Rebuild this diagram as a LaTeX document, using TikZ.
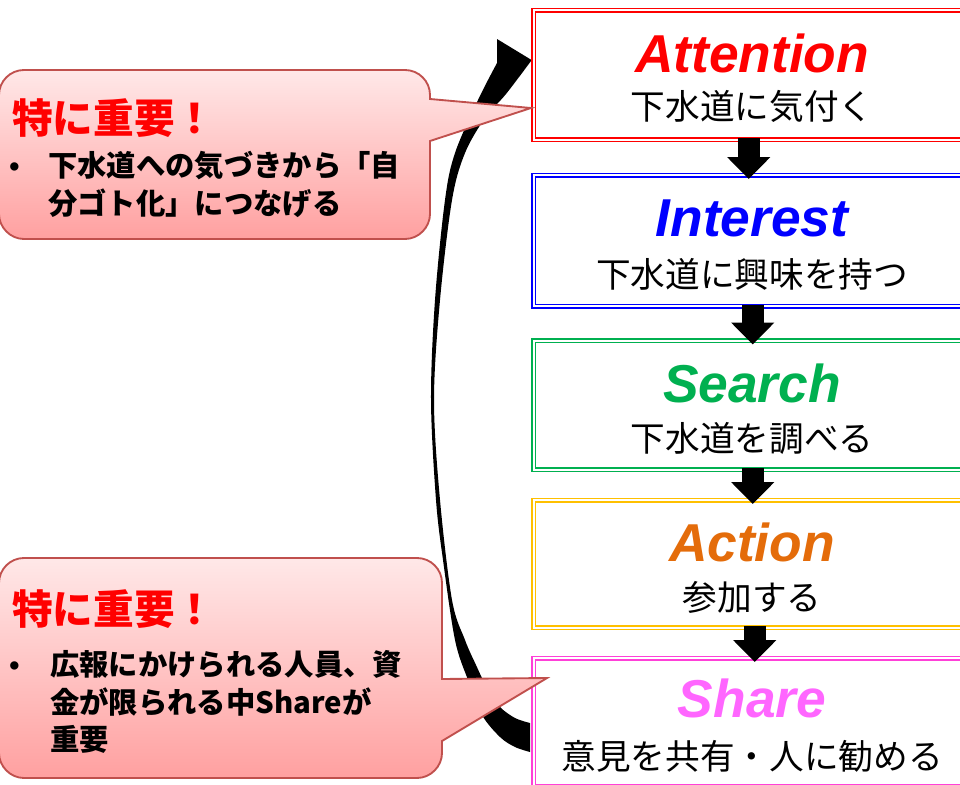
\documentclass[tikz,border=0pt]{standalone}
\usepackage{fontspec}
\setmainfont{Liberation Sans}
\newfontfamily\jp{Noto Sans CJK JP}
\usetikzlibrary{arrows.meta}
\definecolor{cAtt}{HTML}{FF0000}
\definecolor{cInt}{HTML}{0000FF}
\definecolor{cSea}{HTML}{00B050}
\definecolor{cAct}{HTML}{E46C0A}
\definecolor{cSha}{HTML}{FF66FF}
\definecolor{bAct}{HTML}{FFC000}
\definecolor{bSha}{HTML}{FF40D8}
\definecolor{cBorder}{HTML}{C0504D}
\definecolor{cTop}{HTML}{FFE8E8}
\definecolor{cBot}{HTML}{FFA0A0}
\begin{document}
\begin{tikzpicture}[x=0.75pt,y=-0.75pt,
  stagebox/.style={draw=#1, double=white, double distance=1.4pt, line width=1.1pt,
    fill=white, rectangle, inner sep=0pt, anchor=north west, minimum width=328.5pt},
  stagetitle/.style={text=#1, font=\fontsize{40pt}{44pt}\selectfont\bfseries\itshape,
    anchor=base, inner sep=0pt},
  stagetext/.style={font=\jp\fontsize{26pt}{30pt}\selectfont, anchor=base, inner sep=0pt},
  downarrow/.style={line width=16.5pt, -{Triangle[width=31.5pt,length=16.5pt]},
    shorten <=-1.5pt, shorten >=-3.4pt},
  callout/.style={top color=cTop, bottom color=cBot, draw=cBorder, line width=1.4pt},
  ctitle/.style={text=red, font=\jp\bfseries\fontsize{30.5pt}{34pt}\selectfont,
    anchor=base west, inner sep=0pt},
  cline/.style={font=\jp\bfseries\fontsize{22pt}{26pt}\selectfont,
    anchor=base west, inner sep=0pt},
  cbullet/.style={font=\bfseries\fontsize{21.75pt}{26pt}\selectfont,
    anchor=base west, inner sep=0pt}
]
\useasboundingbox (0,0) rectangle (960,785);
\clip (0,0) rectangle (960,785);

% curved return arrow
\fill[black] (497,39) -- (548,70) -- (531,61)
  -- plot[smooth, tension=0.55] coordinates {(531,61) (506,94) (485,118) (465,153)
     (452,200) (440,300) (434,400) (440,500) (452,600) (465,640) (476,665)
     (488,690) (500,707) (515,718) (530,723)}
  -- (530,752)
  -- plot[smooth, tension=0.55] coordinates {(530,752) (515,747) (500,737) (482,715)
     (468,680) (455,640) (443,560) (436,500) (431,400) (435,300) (445,200)
     (455,153) (478,100) (497,63)}
  -- cycle;

% stage boxes
\node[stagebox=cAtt, minimum height=97.1pt] (att) at (533,9.5) {};
\node[stagebox=cInt, minimum height=98.25pt] (int) at (533,174.5) {};
\node[stagebox=cSea, minimum height=96.75pt] (sea) at (533,340) {};
\node[stagebox=bAct, minimum height=95.6pt] (act) at (533,499.5) {};
\node[stagebox=bSha, minimum height=96.4pt] (sha) at (533,657.5) {};

\node[stagetitle=cAtt] (attT) at (752,72) {Attention};
\node[stagetext] (attJ) at (752,119) {下水道に気付く};
\node[stagetitle=cInt] (intT) at (752,236) {Interest};
\node[stagetext] (intJ) at (752,287) {下水道に興味を持つ};
\node[stagetitle=cSea] (seaT) at (752,402) {Search};
\node[stagetext] (seaJ) at (752,451) {下水道を調べる};
\node[stagetitle=cAct] (actT) at (752,561) {Action};
\node[stagetext] (actJ) at (752,610) {参加する};
\node[stagetitle=cSha] (shaT) at (752,717) {Share};
\node[stagetext] (shaJ) at (752,769) {意見を共有・人に勧める};

% down arrows
\draw[downarrow] ([xshift=-3pt]att.south) -- ([xshift=-3pt]int.north);
\draw[downarrow] ([xshift=0pt]int.south) -- ([xshift=0pt]sea.north);
\draw[downarrow] ([xshift=0pt]sea.south) -- ([xshift=0pt]act.north);
\draw[downarrow] ([xshift=1.5pt]act.south) -- ([xshift=1.5pt]sha.north);

% callout 1
\path[callout] (24,70) -- (405,70) .. controls (418.8,70) and (430,81.2) .. (430,95)
  -- (430,99) -- (531,108) -- (430,141)
  -- (430,214) .. controls (430,227.2) and (418.8,239) .. (405,239)
  -- (24,239) .. controls (10.2,239) and (-1,227.2) .. (-1,214)
  -- (-1,95) .. controls (-1,81.2) and (10.2,70) .. (24,70) -- cycle;
\node[ctitle] (c1t) at (12,133) {特に重要！};
\node[cbullet] (c1b) at (9,176) {•};
\node[cline] (c1a) at (48,176) {下水道への気づきから「自};
\node[cline] (c1c) at (48,214) {分ゴト化」につなげる};

% callout 2
\path[callout] (24,558) -- (417,558) .. controls (430.8,558) and (442,569.2) .. (442,583)
  -- (442,679) -- (547,678) -- (442,741)
  -- (442,753) .. controls (442,766.2) and (430.8,778) .. (417,778)
  -- (24,778) .. controls (10.2,778) and (-1,766.2) .. (-1,753)
  -- (-1,583) .. controls (-1,569.2) and (10.2,558) .. (24,558) -- cycle;
\node[ctitle] (c2t) at (12,624) {特に重要！};
\node[cbullet] (c2b) at (9,675) {•};
\node[cline] (c2a) at (50,675) {広報にかけられる人員、資};
\node[cline] (c2c) at (50,713) {金が限られる中Shareが};
\node[cline] (c2d) at (50,750) {重要};
\end{tikzpicture}
\end{document}
